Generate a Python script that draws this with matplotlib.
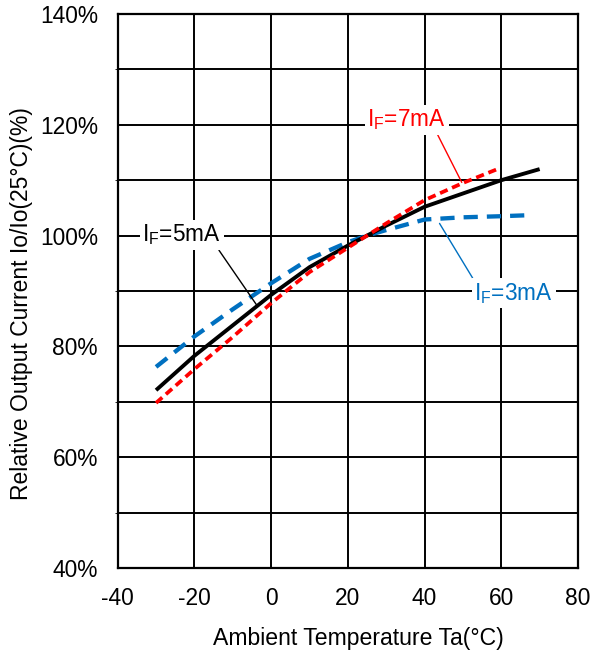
import matplotlib.pyplot as plt

plt.rcParams['font.family'] = ['Liberation Sans', 'DejaVu Sans']
plt.rcParams['mathtext.fontset'] = 'custom'
plt.rcParams['mathtext.rm'] = 'Liberation Sans'
plt.rcParams['mathtext.default'] = 'rm'
plt.rcParams['axes.unicode_minus'] = False

# data
temp_5ma = [-30, -20, -10, 0, 10, 20, 25, 30, 40, 50, 60, 70]
rel_5ma = [72.1, 78.3, 83.8, 89.3, 94.3, 98.2, 100.0, 101.8, 105.2, 107.6, 110.0, 112.0]

temp_7ma = [-30, -20, -10, 0, 10, 20, 25, 30, 40, 50, 59]
rel_7ma = [69.8, 75.9, 81.7, 87.8, 93.4, 97.8, 100.0, 102.2, 106.4, 109.5, 112.0]

temp_3ma = [-30, -20, -10, 0, 10, 20, 25, 30, 40, 50, 60, 68]
rel_3ma = [76.3, 81.8, 86.7, 91.4, 95.8, 98.8, 100.0, 101.0, 102.9, 103.3, 103.5, 103.7]

x_ticks = [-40, -20, 0, 20, 40, 60, 80]
y_ticks = [40, 60, 80, 100, 120, 140]

# ------------------------------------------------------------------------------- #
my_dpi = 100
fig = plt.figure(figsize=(606 / my_dpi, 656 / my_dpi), dpi=my_dpi)
fig.subplots_adjust(left=0.1942, right=0.9538, bottom=0.1341, top=0.9787)
ax = fig.add_subplot()

ax.plot(temp_5ma, rel_5ma, color='black', lw=2.8, solid_capstyle='butt', zorder=4)
ax.plot(temp_7ma, rel_7ma, color='#ff0000', lw=2.7, linestyle=(0, (2.2, 1.3)), zorder=5)
ax.plot(temp_3ma, rel_3ma, color='#0070c0', lw=3.1, linestyle=(0, (3.3, 2.1)), zorder=3)

ax.set_xlim(-40, 80)
ax.set_ylim(40, 140)
ax.set_xticks(x_ticks)
ax.set_yticks(y_ticks)
ax.set_yticklabels([f'{v}%' for v in y_ticks])
ax.tick_params(length=0, labelsize=16.4)
ax.tick_params(axis='y', pad=14.2)
ax.tick_params(axis='x', pad=13.8)

ax.set_yticks(range(50, 140, 20), minor=True)
ax.set_axisbelow(True)
ax.grid(True, which='both', color='black', lw=1.4)
for sp in ax.spines.values():
    sp.set_linewidth(1.6)

ax.set_xlabel('Ambient Temperature Ta(°C)', fontsize=16.6)
ax.set_ylabel('Relative Output Current Io/Io(25°C)(%)', fontsize=16.5)
ax.xaxis.set_label_coords(0.522, -0.106)
ax.yaxis.set_label_coords(-0.184, 0.478)

box = dict(boxstyle='square,pad=0.12', fc='white', ec='none')
ax.annotate('I$_{F}$=7mA', xy=(49.7, 109.6), xytext=(35.3, 120.9),
            color='#ff0000', fontsize=16.3, ha='center', va='center', bbox=box, zorder=6,
            arrowprops=dict(arrowstyle='-', color='#ff0000', lw=1.0,
                            shrinkA=0, shrinkB=0, relpos=(0.88, 0.0)))
ax.annotate('I$_{F}$=5mA', xy=(-3.8, 87.5), xytext=(-23.3, 100.1),
            color='black', fontsize=16.3, ha='center', va='center', bbox=box, zorder=6,
            arrowprops=dict(arrowstyle='-', color='black', lw=1.0,
                            shrinkA=0, shrinkB=0, relpos=(0.95, 0.0)))
ax.annotate('I$_{F}$=3mA', xy=(43.9, 102.2), xytext=(63.2, 89.6),
            color='#0070c0', fontsize=16.3, ha='center', va='center', bbox=box, zorder=6,
            arrowprops=dict(arrowstyle='-', color='#0070c0', lw=1.0,
                            shrinkA=0, shrinkB=0, relpos=(0.0, 1.0)))

plt.savefig('out.png', dpi=my_dpi)
# ------------------------------------------------------------------------------- #
